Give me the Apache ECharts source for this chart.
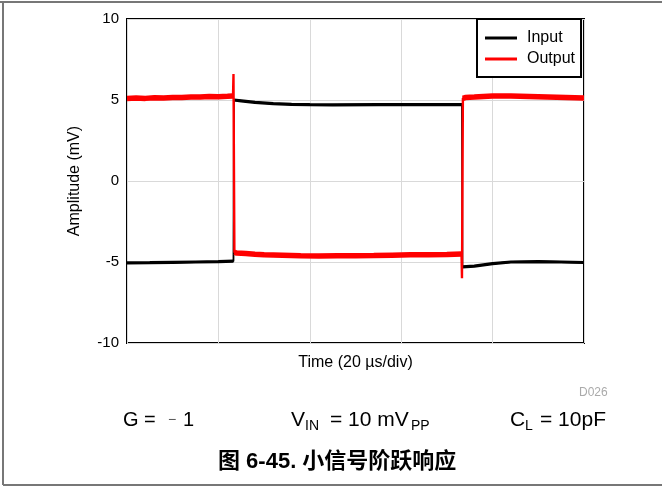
<!DOCTYPE html>
<html>
<head>
<meta charset="utf-8">
<script src="https://cdn.jsdelivr.net/npm/echarts@6/dist/echarts.min.js"></script>
<style>
html,body{margin:0;padding:0;background:#fff;}
#c{width:662px;height:487px;}
</style>
</head>
<body>
<div id="c"></div>
<script>
// Time in µs (20 µs/div, 5 divisions), amplitude in mV
var inputTime   = [0, 5, 10, 15, 20, 23.3, 23.4, 25, 28, 32, 36, 40, 45, 55, 65, 73.3, 73.4, 76, 80, 84, 90, 95, 100];
var inputValues = [-5.05, -5.04, -5.02, -5.0, -4.98, -4.95, 5.0, 4.95, 4.85, 4.78, 4.73, 4.71, 4.70, 4.72, 4.72, 4.72, -5.3, -5.25, -5.1, -5.0, -4.98, -5.0, -5.03];

var outputTime   = [0, 2, 4, 6, 8, 10, 12, 14, 16, 18, 20, 22, 23.2, 23.3, 23.5,
                    24, 26, 28, 30, 34, 38, 42, 46, 50, 54, 58, 62, 66, 70, 73.2, 73.3, 73.5,
                    74, 76, 78, 80, 84, 88, 92, 96, 100];
var outputValues = [5.1, 5.12, 5.1, 5.14, 5.12, 5.15, 5.15, 5.18, 5.18, 5.21, 5.2, 5.23, 5.25, 6.6, -4.4,
                    -4.45, -4.48, -4.52, -4.55, -4.58, -4.62, -4.63, -4.62, -4.61, -4.6, -4.58, -4.56, -4.55, -4.54, -4.5, -6.0, 5.1,
                    5.15, 5.18, 5.22, 5.24, 5.25, 5.22, 5.19, 5.16, 5.13];

var yTicks = [-10, -5, 0, 5, 10];
var seriesNames = ['Input', 'Output'];

function pairs(t, v) { return t.map(function (x, i) { return [x, v[i]]; }); }
// same points, broken at the fast step edges (used for the thick noise band of the flat parts)
function plateaus(t, v) {
  var out = [];
  for (var i = 0; i < t.length; i++) {
    if (i > 0 && Math.abs(v[i] - v[i - 1]) > 1) out.push([t[i], null]);
    out.push([t[i], v[i]]);
  }
  return out;
}

var FONT = "'Liberation Sans', Arial, sans-serif";
var chart = echarts.init(document.getElementById('c'), null, {renderer: 'canvas'});

function txt(x, y, s, size, color, extra) {
  return {type: 'text', left: x, top: y, style: {text: s, font: (extra || '') + size + 'px ' + FONT, fill: color || '#000'}};
}

chart.setOption({
  animation: false,
  backgroundColor: '#fff',
  grid: {left: 127, right: 78, top: 19, bottom: 144, show: true, borderColor: '#000', borderWidth: 2, backgroundColor: 'transparent'},
  xAxis: {
    type: 'value', min: 0, max: 100, interval: 20,
    axisLabel: {show: false}, axisTick: {show: false},
    axisLine: {show: false},
    splitLine: {show: true, lineStyle: {color: '#d9d9d9', width: 1}},
    name: 'Time (20 µs/div)', nameLocation: 'middle', nameGap: 12,
    nameTextStyle: {fontFamily: FONT, fontSize: 16, color: '#000', verticalAlign: 'top'}
  },
  yAxis: {
    type: 'value', min: yTicks[0], max: yTicks[yTicks.length - 1], interval: 5,
    axisLabel: {fontFamily: FONT, fontSize: 15, color: '#000', margin: 8},
    axisTick: {show: false}, axisLine: {show: false},
    splitLine: {show: true, lineStyle: {color: '#d9d9d9', width: 1}},
    name: 'Amplitude (mV)', nameLocation: 'middle', nameGap: 44,
    nameTextStyle: {fontFamily: FONT, fontSize: 16, color: '#000'}
  },
  legend: {
    orient: 'vertical', left: 477, top: 19,
    backgroundColor: '#fff', borderColor: '#000', borderWidth: 2, borderRadius: 0,
    padding: [11, 6, 10, 8], itemGap: 5, itemWidth: 32, itemHeight: 3, icon: 'rect',
    textStyle: {fontFamily: FONT, fontSize: 16, color: '#000', padding: [0, 0, 0, 5]},
    data: seriesNames
  },
  series: [
    {name: seriesNames[0], type: 'line', data: plateaus(inputTime, inputValues), showSymbol: false, symbol: 'none', connectNulls: false,
     lineStyle: {color: '#000', width: 3.2}, itemStyle: {color: '#000'}, z: 2},
    {name: seriesNames[0], type: 'line', data: pairs(inputTime, inputValues), showSymbol: false, symbol: 'none',
     lineStyle: {color: '#000', width: 1.8}, itemStyle: {color: '#000'}, z: 2},
    {name: seriesNames[1], type: 'line', data: plateaus(outputTime, outputValues), showSymbol: false, symbol: 'none', connectNulls: false,
     lineStyle: {color: '#ff0000', width: 5.5}, itemStyle: {color: '#ff0000'}, z: 3},
    {name: seriesNames[1], type: 'line', data: pairs(outputTime, outputValues), showSymbol: false, symbol: 'none',
     lineStyle: {color: '#ff0000', width: 2.4}, itemStyle: {color: '#ff0000'}, z: 3}
  ],
  graphic: [
    {type: 'line', shape: {x1: 0, y1: 2, x2: 662, y2: 2}, style: {stroke: '#777', lineWidth: 2}},
    {type: 'line', shape: {x1: 3, y1: 2, x2: 3, y2: 485}, style: {stroke: '#777', lineWidth: 2}},
    {type: 'line', shape: {x1: 3, y1: 485, x2: 662, y2: 485}, style: {stroke: '#777', lineWidth: 2}},
    txt(579, 387, 'D026', 12, '#aaa'),
    txt(123, 410, 'G =', 20),
    txt(168, 413, '−', 14, '#555'),
    txt(183, 410, '1', 20),
    txt(291, 410, 'V', 21),
    txt(305, 419, 'IN', 14),
    txt(330, 410, '= 10 mV', 21),
    txt(411, 419, 'PP', 14),
    txt(510, 410, 'C', 21),
    txt(525, 419, 'L', 14),
    txt(540, 410, '= 10pF', 21),
    {type: 'text', left: 218, top: 451, style: {text: '图 6-45. 小信号阶跃响应', font: 'bold 22px ' + FONT + ", 'Noto Sans CJK SC'", fill: '#000'}}
  ]
});
</script>
</body>
</html>
